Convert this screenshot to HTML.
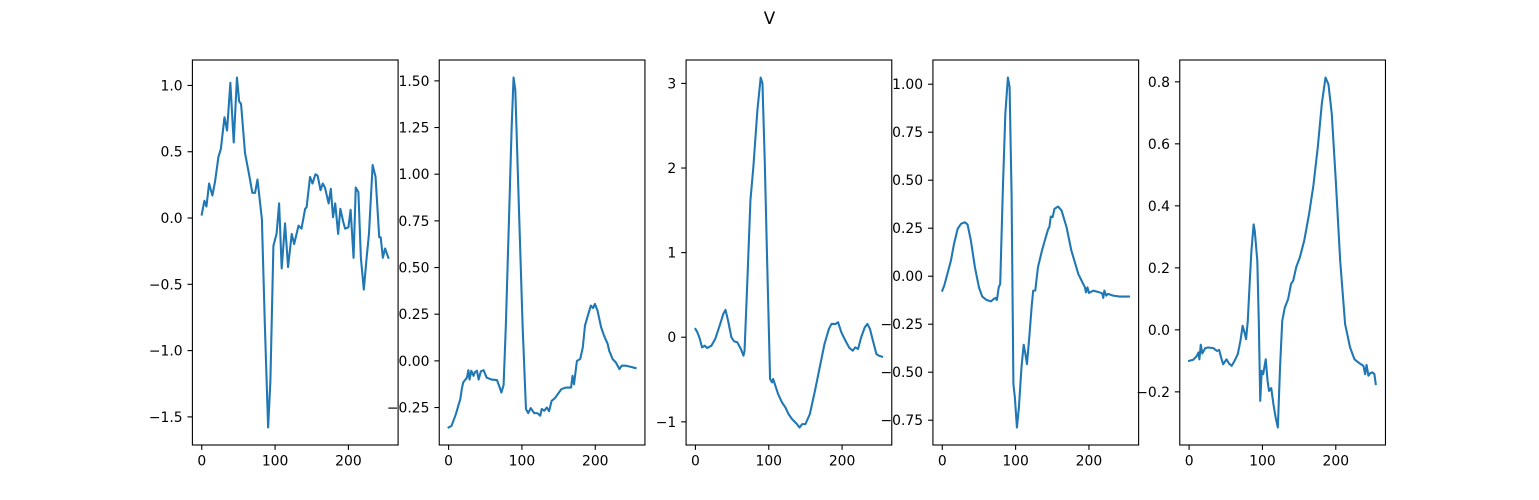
<!DOCTYPE html>
<html><head><meta charset="utf-8"><style>
body{margin:0;background:#fff;}
svg{display:block;font-family:"DejaVu Sans","Liberation Sans",sans-serif;}
</style></head><body>
<svg id="fig" width="1539" height="500" viewBox="0 0 1539 500" xmlns="http://www.w3.org/2000/svg">
<rect width="1539" height="500" fill="#fff"/>
<text x="769.5" y="24" font-size="16.7" text-anchor="middle" fill="#000">V</text>
</svg>
<script>
const xs1=[0,3.6,6.4,10,14.5,18,22.7,26,31,34.5,39,43.6,48,51,53.6,59,64.5,69,72.7,76,82,86,90.5,93.6,97.7,102,105.5,109,113.6,117.7,122.7,126,132,136,141,143,147.7,151,155,158,162,165,168,173,176,179,182,186,189,193,195.5,200,203,207,210,213.6,217,221,224.5,228,233,237,242,244,247,250,254.5];
const ys1=[0.026,0.13,0.087,0.26,0.17,0.27,0.46,0.52,0.76,0.66,1.02,0.57,1.06,0.88,0.86,0.49,0.33,0.19,0.19,0.29,-0.007,-0.8,-1.58,-1.23,-0.21,-0.12,0.11,-0.38,-0.04,-0.37,-0.12,-0.196,-0.057,-0.08,0.07,0.082,0.31,0.26,0.33,0.32,0.21,0.26,0.23,0.11,0.22,0.006,0.11,-0.12,0.07,-0.03,-0.08,-0.07,0.062,-0.30,0.23,0.195,-0.30,-0.54,-0.32,-0.12,0.40,0.31,-0.145,-0.145,-0.30,-0.23,-0.30];
const xs2=[0,4,10,14,16,18,20,25,27,28.6,31,34,36,38.6,41,44,47.7,52,58.6,66,69.5,72,75,78,82.7,86,88.6,91,96,101,105.5,108.6,112,116.8,121,125,127,130.5,134,137,140.5,145,149.5,154,160,167,169,171,175,179.5,183,186,190.5,194,197,199.5,203,208,212,217,219,221,223.6,228,230.5,233,236,242,248.6,255];
const ys2=[-0.357,-0.348,-0.285,-0.23,-0.205,-0.15,-0.115,-0.09,-0.05,-0.10,-0.053,-0.08,-0.06,-0.053,-0.10,-0.056,-0.05,-0.09,-0.10,-0.103,-0.14,-0.17,-0.13,0.18,0.806,1.253,1.518,1.45,0.806,0.18,-0.258,-0.28,-0.253,-0.28,-0.28,-0.294,-0.258,-0.267,-0.25,-0.27,-0.214,-0.2,-0.175,-0.151,-0.143,-0.143,-0.08,-0.125,0.0,0.01,0.072,0.189,0.25,0.296,0.283,0.305,0.27,0.18,0.135,0.09,0.054,0.036,0.01,-0.008,-0.026,-0.044,-0.026,-0.026,-0.032,-0.039];
const xs3=[0,2.7,6,9,12.7,16,21.8,27,33,38,41,44.5,49,52.7,57,62,65.5,67,71,75,79,84.5,89,91.4,94.5,98,101.8,104.5,106,109,112.7,118,122.7,127,131.8,137.7,142,145.5,150,156,163,169.5,176,182,185.5,191,194.5,199,204.5,210,214.5,218,221.8,226,231,234.5,238,242,246.8,250,254.5];
const ys3=[0.098,0.058,-0.02,-0.12,-0.10,-0.127,-0.10,-0.02,0.137,0.276,0.323,0.197,0.0,-0.048,-0.06,-0.139,-0.218,-0.159,0.71,1.618,2.013,2.684,3.07,3.0,2.09,0.828,-0.494,-0.534,-0.494,-0.573,-0.672,-0.77,-0.83,-0.909,-0.968,-1.02,-1.067,-1.027,-1.027,-0.909,-0.633,-0.356,-0.08,0.098,0.157,0.157,0.177,0.058,-0.04,-0.127,-0.159,-0.12,-0.139,0.0,0.118,0.157,0.098,-0.04,-0.198,-0.218,-0.23];
const xs4=[0,2.7,7,11.8,16,21,25.5,31,34.5,39,44.5,50,54.5,60.5,66.4,70,72.7,74.5,77,79,82.7,86,89.5,91.8,94.5,97,99,101.8,104.5,108,111,113,115.5,119,122,124,126.8,130.5,136,140.5,144.5,146,148,150.5,153,158,162.7,169.5,176,185.5,191,194.5,196,198,200,206,212.7,218,219.5,221,223.6,226,233,242,254.5];
const ys4=[-0.075,-0.049,0.012,0.081,0.168,0.247,0.273,0.281,0.269,0.186,0.047,-0.058,-0.106,-0.124,-0.131,-0.119,-0.113,-0.124,-0.058,-0.04,0.464,0.847,1.035,0.986,0.429,-0.562,-0.632,-0.788,-0.684,-0.475,-0.357,-0.397,-0.458,-0.301,-0.153,-0.075,-0.075,0.047,0.134,0.195,0.247,0.255,0.311,0.308,0.351,0.363,0.342,0.255,0.134,0.012,-0.031,-0.058,-0.084,-0.058,-0.087,-0.075,-0.082,-0.089,-0.113,-0.075,-0.101,-0.092,-0.101,-0.106,-0.106];
const xs5=[0,6,10.5,12.7,14,15.9,18,22,26,33,38,41,43.6,46.4,51,54.5,58,62,66.4,70,73,75.5,77.7,80,83,85,88,89.5,93,95,97,99,101,104.5,107,109,112,115,118,121,124,127,130.5,135,139,142,146,151,157,163.6,169.5,175.5,181,186,190,194.5,200,206,212.7,219.5,225.5,233,237.7,240,242,244.5,247,250,252.7,254.5];
const ys5=[-0.1,-0.096,-0.084,-0.073,-0.095,-0.048,-0.076,-0.059,-0.057,-0.059,-0.068,-0.065,-0.089,-0.111,-0.095,-0.109,-0.116,-0.1,-0.078,-0.035,0.013,-0.008,-0.03,0.029,0.17,0.256,0.34,0.32,0.223,0.029,-0.229,-0.132,-0.143,-0.095,-0.165,-0.197,-0.188,-0.24,-0.283,-0.315,-0.121,0.029,0.072,0.099,0.148,0.159,0.202,0.234,0.288,0.374,0.466,0.59,0.73,0.814,0.792,0.698,0.482,0.223,0.019,-0.057,-0.095,-0.109,-0.116,-0.143,-0.113,-0.148,-0.14,-0.137,-0.143,-0.175];
const yticks1=[-1.5,-1.0,-0.5,0.0,0.5,1.0];
const yticks2=[-0.25,0.00,0.25,0.50,0.75,1.00,1.25,1.50];
const yticks3=[-1,0,1,2,3];
const yticks4=[-0.75,-0.50,-0.25,0.00,0.25,0.50,0.75,1.00];
const yticks5=[-0.2,0.0,0.2,0.4,0.6,0.8];
const xticks=[0,100,200];
const decimals=[1,2,0,2,1];

const NS="http://www.w3.org/2000/svg";
const fig=document.getElementById('fig');
function mk(tag,attrs,parent){const e=document.createElementNS(NS,tag);for(const k in attrs)e.setAttribute(k,attrs[k]);(parent||fig).appendChild(e);return e;}
function fmt(v,d){const s=Math.abs(v).toFixed(d);return (v<-1e-9?'\u2212':'')+s;}
const series=[[xs1,ys1,yticks1],[xs2,ys2,yticks2],[xs3,ys3,yticks3],[xs4,ys4,yticks4],[xs5,ys5,yticks5]];
const W=205.7,GAP=41.14,L0=192.4,TOP=60,BOT=445,TL=4.9,FS=13.9;
series.forEach((s,i)=>{
  const [xs,ys,yt]=s;
  const left=L0+i*(W+GAP);
  const x0=-12.75,x1=267.75;
  let mn=Math.min(...ys),mx=Math.max(...ys);const pad=(mx-mn)*0.05;const y0=mn-pad,y1=mx+pad;
  const X=v=>left+(v-x0)/(x1-x0)*W;
  const Y=v=>BOT-(v-y0)/(y1-y0)*(BOT-TOP);
  const g=mk('g',{});
  
  
  const pts=xs.map((x,j)=>X(x).toFixed(2)+','+Y(ys[j]).toFixed(2)).join(' ');
  const line=mk('polyline',{points:pts,fill:'none',stroke:'#1f77b4','stroke-width':2.08,'stroke-linejoin':'round','stroke-linecap':'square'},g);
  
  
  const fr=mk('rect',{x:left,y:TOP,width:W,height:BOT-TOP,fill:'none',stroke:'#000','stroke-width':1.1},g);
  
  
  xticks.forEach(t=>{
    const px=X(t);
    mk('line',{x1:px,x2:px,y1:BOT,y2:BOT+TL,stroke:'#000','stroke-width':1.1},g);
    const tx=mk('text',{x:px,y:BOT+TL+4.9+10.5,'font-size':FS,'text-anchor':'middle',fill:'#000'},g);
    tx.textContent=String(t);
    
    
  });
  yt.forEach(t=>{
    const py=Y(t);
    if(py<TOP-0.5||py>BOT+0.5)return;
    mk('line',{x1:left-TL,x2:left,y1:py,y2:py,stroke:'#000','stroke-width':1.1},g);
    const ty=mk('text',{x:left-TL-4.9,y:py+5,'font-size':FS,'text-anchor':'end',fill:'#000'},g);
    ty.textContent=fmt(t,decimals[i]);
    
    
  });
});
</script>
</body></html>
